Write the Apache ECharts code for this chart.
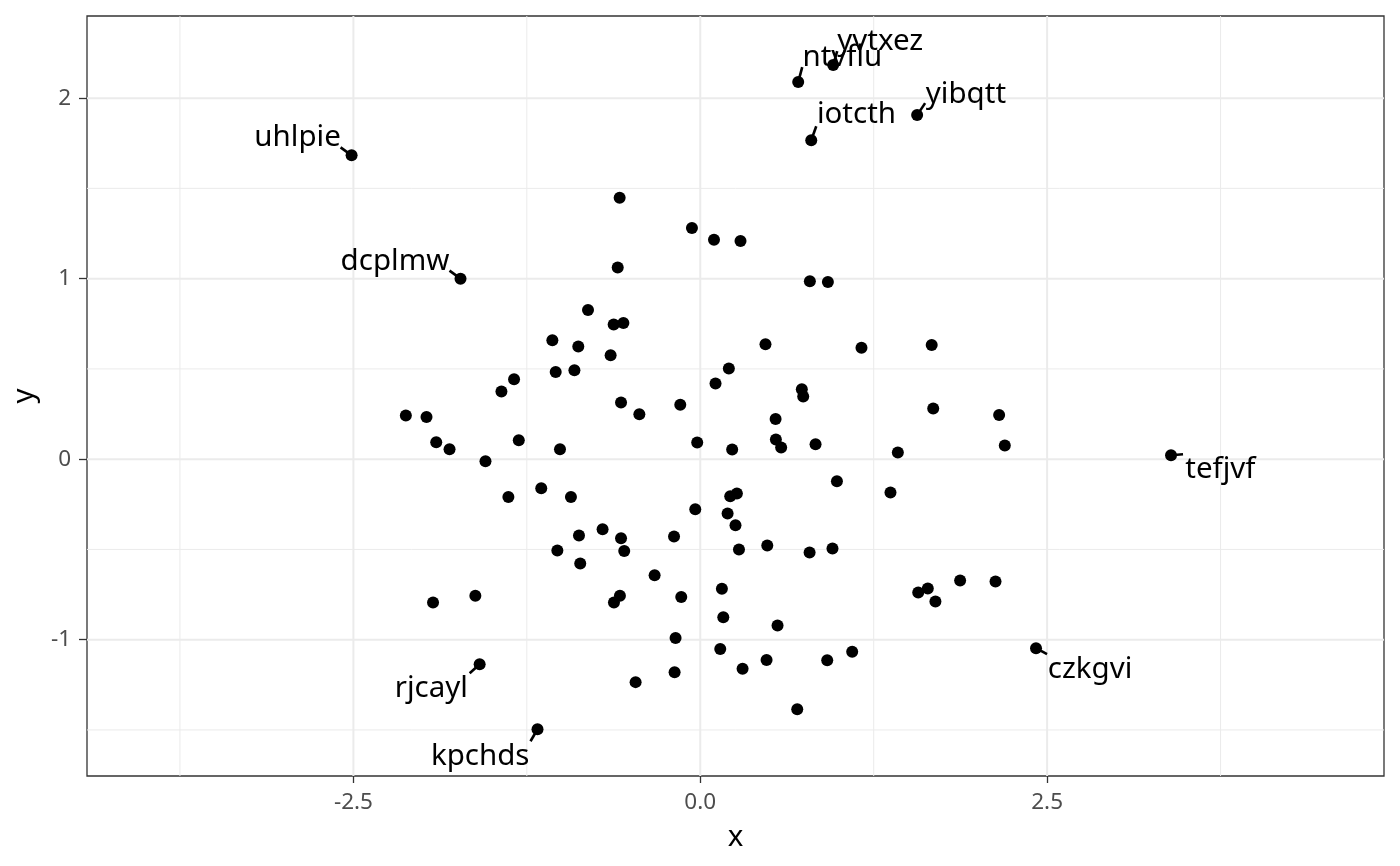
<!DOCTYPE html>
<html>
<head>
<meta charset="utf-8">
<script src="https://cdn.jsdelivr.net/npm/echarts@6/dist/echarts.min.js"></script>
<style>
html,body{margin:0;padding:0;background:#fff;}
#chart{width:1400px;height:866px;}
</style>
</head>
<body>
<div id="chart"></div>
<script>
// ---- data ----
const pointX = [-0.581,-0.06,0.099,0.29,-0.595,0.79,0.92,-0.809,-0.624,-0.554,-1.066,-0.879,-0.646,0.47,1.162,1.668,-1.042,-0.907,0.11,0.206,-1.342,-1.433,0.732,0.742,-0.571,-0.439,-0.144,1.679,2.154,0.543,-2.122,-1.973,-1.903,-1.807,-1.308,-1.011,-1.548,-0.022,0.23,0.545,0.583,0.831,1.424,2.195,0.985,1.371,-1.383,-1.146,-0.932,-0.036,0.216,0.264,0.197,0.254,0.279,-0.704,-0.874,-0.571,-0.189,-1.03,-0.548,-0.865,-0.329,0.483,0.788,0.953,-1.926,-1.621,-0.622,-0.579,-0.137,0.156,0.166,0.557,1.571,1.64,1.695,1.873,2.128,-0.178,0.144,0.305,-0.185,-0.466,0.478,0.915,1.095,0.699];
const pointY = [1.448,1.28,1.215,1.209,1.062,0.986,0.982,0.827,0.746,0.755,0.659,0.624,0.576,0.637,0.617,0.632,0.483,0.492,0.419,0.502,0.443,0.375,0.388,0.347,0.314,0.249,0.301,0.281,0.245,0.223,0.242,0.234,0.094,0.055,0.105,0.055,-0.011,0.092,0.054,0.109,0.065,0.083,0.037,0.076,-0.122,-0.185,-0.21,-0.161,-0.21,-0.277,-0.205,-0.19,-0.301,-0.366,-0.5,-0.388,-0.423,-0.438,-0.428,-0.506,-0.508,-0.578,-0.643,-0.478,-0.517,-0.495,-0.794,-0.757,-0.794,-0.757,-0.764,-0.718,-0.875,-0.921,-0.739,-0.716,-0.788,-0.672,-0.678,-0.991,-1.052,-1.161,-1.18,-1.235,-1.112,-1.114,-1.067,-1.385];
const labelNames = ['uhlpie','dcplmw','ntvflu','yvtxez','iotcth','yibqtt','tefjvf','czkgvi','rjcayl','kpchds'];
const labelX = [-2.513,-1.728,0.706,0.958,0.8,1.563,3.393,2.42,-1.59,-1.173];
const labelY = [1.683,1.0,2.089,2.183,1.767,1.906,0.022,-1.047,-1.136,-1.496];
const xTicks = [-2.5, 0, 2.5];
const xMinor = [-3.75, -1.25, 1.25, 3.75];
const yTicks = [-1, 0, 1, 2];
const yMinor = [-1.5, -0.5, 0.5, 1.5];

// ---- label placement (pixel offsets from the point; style only) ----
const textOffset = {
  uhlpie:[-54,-17.5], dcplmw:[-65.5,-17], ntvflu:[44.2,-24.4], yvtxez:[47,-23.5],
  iotcth:[45.2,-25.3], yibqtt:[48.8,-20.8], tefjvf:[49.3,14.8], czkgvi:[54,21.9],
  rjcayl:[-48.3,24], kpchds:[-57.3,27.6]
};
const segOffset = {
  uhlpie:[-11,-8], dcplmw:[-11,-8], ntvflu:[4,-15], yvtxez:[4,-14],
  iotcth:[5,-14], yibqtt:[8,-12], tefjvf:[12,-1], czkgvi:[11,6],
  rjcayl:[-10,9], kpchds:[-7,12]
};

const FONT = 'Noto Sans';
const X_MIN = -4.42, X_MAX = 4.928, Y_MIN = -1.755, Y_MAX = 2.455;
const chart = echarts.init(document.getElementById('chart'), null, {renderer:'canvas'});

const plain = pointX.map((x,i)=>[x, pointY[i]]);
const labeledPts = labelX.map((x,i)=>[x, labelY[i]]);
const labeledData = labelNames.map((n,i)=>[labelX[i], labelY[i], i]);

// grid-line data: [value, direction(0=vertical,1=horizontal), major(1/0)]
const gridData = []
  .concat(xMinor.map(v=>[v,0,0])).concat(yMinor.map(v=>[v,1,0]))
  .concat(xTicks.map(v=>[v,0,1])).concat(yTicks.map(v=>[v,1,1]));

chart.setOption({
  animation:false,
  backgroundColor:'#ffffff',
  textStyle:{fontFamily:FONT},
  grid:{left:87, right:16, top:16, bottom:90, show:true, borderColor:'#333333', borderWidth:1.3, backgroundColor:'transparent', containLabel:false},
  xAxis:{
    type:'value', min:X_MIN, max:X_MAX,
    name:'x', nameLocation:'middle', nameGap:47,
    nameTextStyle:{color:'#000', fontSize:29.5, fontFamily:FONT},
    axisLine:{show:false, onZero:false},
    axisTick:{show:true, length:7, customValues:xTicks, lineStyle:{color:'#333333', width:1.3}},
    axisLabel:{customValues:xTicks, color:'#4D4D4D', fontSize:22.5, margin:15, fontFamily:FONT, formatter:v=>Number(v).toFixed(1)},
    splitLine:{show:false}
  },
  yAxis:{
    type:'value', min:Y_MIN, max:Y_MAX,
    name:'y', nameLocation:'middle', nameGap:46, nameRotate:90,
    nameTextStyle:{color:'#000', fontSize:29.5, fontFamily:FONT},
    axisLine:{show:false, onZero:false},
    axisTick:{show:true, length:8, customValues:yTicks, lineStyle:{color:'#333333', width:1.3}},
    axisLabel:{customValues:yTicks, color:'#4D4D4D', fontSize:22.5, margin:16, fontFamily:FONT, formatter:v=>String(Math.round(v))},
    splitLine:{show:false}
  },
  series:[
    {
      type:'custom', z:1, silent:true, data:gridData,
      renderItem:function(params, api){
        const cs = params.coordSys;
        const v = api.value(0), dir = api.value(1), major = api.value(2);
        let shape;
        if(dir===0){
          const px = api.coord([v, Y_MIN])[0];
          shape = {x1:px, y1:cs.y, x2:px, y2:cs.y+cs.height};
        } else {
          const py = api.coord([X_MIN, v])[1];
          shape = {x1:cs.x, y1:py, x2:cs.x+cs.width, y2:py};
        }
        return {type:'line', shape:shape, style:{stroke:'#EBEBEB', lineWidth: major ? 2 : 1}};
      }
    },
    {
      type:'scatter', data:plain, symbolSize:12, itemStyle:{color:'#000', opacity:1}, silent:true, z:3
    },
    {
      type:'scatter', data:labeledPts, symbolSize:12, itemStyle:{color:'#000', opacity:1}, silent:true, z:3
    },
    {
      type:'custom', z:4, silent:true, data:labeledData,
      renderItem:function(params, api){
        const i = api.value(2);
        const name = labelNames[i];
        const p = api.coord([api.value(0), api.value(1)]);
        const s = segOffset[name], t = textOffset[name];
        return {
          type:'group',
          children:[
            {type:'line', shape:{x1:p[0], y1:p[1], x2:p[0]+s[0], y2:p[1]+s[1]}, style:{stroke:'#000', lineWidth:2.6, lineCap:'butt'}},
            {type:'text', style:{text:name, x:p[0]+t[0], y:p[1]+t[1], fill:'#000', fontSize:29.5, fontFamily:FONT, align:'center', verticalAlign:'middle'}}
          ]
        };
      }
    }
  ]
});
</script>
</body>
</html>
